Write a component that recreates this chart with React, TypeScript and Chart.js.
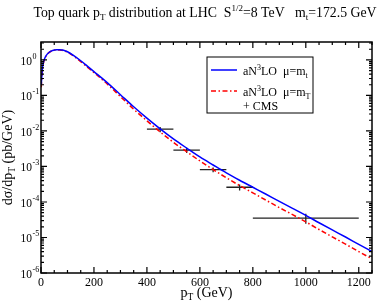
import React, { useEffect, useRef } from 'react';
import { Chart, registerables } from 'chart.js';

Chart.register(...registerables);

// ---- data ----
const ptGrid = [1, 5, 10, 15, 20, 30, 40, 50, 60, 70, 80, 90, 100, 125, 150, 175, 200, 250, 300, 350, 400, 450, 500, 550, 600, 650, 700, 750, 800, 850, 900, 950, 1000, 1050, 1100, 1150, 1200, 1250];
const sigmaMuMt = [0.2, 0.55, 0.9, 1.15, 1.35, 1.62, 1.8, 1.9, 1.95, 1.95, 1.9, 1.82, 1.7, 1.3, 0.95, 0.67, 0.47, 0.23, 0.105, 0.048, 0.023, 0.0115, 0.006, 0.0033, 0.00185, 0.0011, 0.00066, 0.00041, 0.00026, 0.000165, 0.000104, 0.000066, 0.000042, 0.000026, 0.0000163, 0.0000103, 0.0000064, 0.000004];
const sigmaMuMT = [0.17, 0.52, 0.87, 1.12, 1.32, 1.6, 1.78, 1.88, 1.92, 1.92, 1.87, 1.78, 1.66, 1.25, 0.9, 0.63, 0.44, 0.21, 0.093, 0.041, 0.0193, 0.0094, 0.0048, 0.0026, 0.00143, 0.00082, 0.00048, 0.00029, 0.000181, 0.000112, 0.0000695, 0.000044, 0.0000275, 0.0000168, 0.0000104, 0.0000065, 0.000004, 0.0000025];

const cmsPt = [450, 550, 650, 750, 1000];
const cmsPtLow = [400, 500, 600, 700, 800];
const cmsPtHigh = [500, 600, 700, 800, 1200];
const cmsSigma = [0.0112, 0.0029, 0.00081, 0.00026, 0.000035];
const cmsSigmaUp = [0.013, 0.00335, 0.00094, 0.00031, 0.0000465];
const cmsSigmaDown = [0.0092, 0.0024, 0.00069, 0.00021, 0.0000245];

const xTickLabels = [0, 200, 400, 600, 800, 1000, 1200];
const yDecadeExponents = [0, -1, -2, -3, -4, -5, -6];

const X_MIN = 0;
const X_MAX = 1250;
const Y_MIN = 1e-6;
const Y_MAX = 3.2;

const FONT = "'Liberation Serif', 'Times New Roman', serif";

type Seg = { t: string; s: number; dy: number };

function segWidth(ctx: CanvasRenderingContext2D, segs: Seg[]) {
  let w = 0;
  for (const g of segs) {
    ctx.font = `${g.s}px ${FONT}`;
    w += ctx.measureText(g.t).width;
  }
  return w;
}

function drawRich(ctx: CanvasRenderingContext2D, x: number, y: number, segs: Seg[], align: 'left' | 'center' | 'right') {
  const w = segWidth(ctx, segs);
  let cx = align === 'left' ? x : align === 'center' ? x - w / 2 : x - w;
  ctx.textAlign = 'left';
  ctx.textBaseline = 'alphabetic';
  for (const g of segs) {
    ctx.font = `${g.s}px ${FONT}`;
    ctx.fillText(g.t, cx, y + g.dy);
    cx += ctx.measureText(g.t).width;
  }
}

const decorPlugin = {
  id: 'decor',
  beforeDatasetsDraw(chart: any) {
    const ctx: CanvasRenderingContext2D = chart.ctx;
    const xs = chart.scales.x;
    const ys = chart.scales.y;
    ctx.save();
    ctx.strokeStyle = '#222';
    ctx.lineWidth = 1.3;
    for (let i = 0; i < cmsPt.length; i++) {
      const y = ys.getPixelForValue(cmsSigma[i]);
      const x0 = xs.getPixelForValue(cmsPtLow[i]);
      const x1 = xs.getPixelForValue(cmsPtHigh[i]);
      const xc = xs.getPixelForValue(cmsPt[i]);
      ctx.beginPath();
      ctx.moveTo(x0, y);
      ctx.lineTo(x1, y);
      ctx.moveTo(xc, ys.getPixelForValue(cmsSigmaUp[i]));
      ctx.lineTo(xc, ys.getPixelForValue(cmsSigmaDown[i]));
      ctx.stroke();
    }
    ctx.restore();
  },
  afterDatasetsDraw(chart: any) {
    const ctx: CanvasRenderingContext2D = chart.ctx;
    const xs = chart.scales.x;
    const ys = chart.scales.y;
    const { left, right, top, bottom } = chart.chartArea;
    ctx.save();
    ctx.fillStyle = '#000';
    ctx.strokeStyle = '#000';
    ctx.lineWidth = 1.5;
    ctx.strokeRect(left, top, right - left, bottom - top);

    ctx.lineWidth = 1.2;
    ctx.beginPath();
    for (let v = X_MIN; v <= X_MAX; v += 50) {
      const px = xs.getPixelForValue(v);
      const len = v % 200 === 0 ? 6 : 3;
      ctx.moveTo(px, bottom);
      ctx.lineTo(px, bottom - len);
      ctx.moveTo(px, top);
      ctx.lineTo(px, top + len);
    }
    for (const e of yDecadeExponents) {
      for (let k = 1; k <= 9; k++) {
        const v = k * Math.pow(10, e);
        if (v > Y_MAX * 1.0001 || v < Y_MIN * 0.9999) continue;
        const py = ys.getPixelForValue(v);
        const len = k === 1 ? 6 : 3;
        ctx.moveTo(left, py);
        ctx.lineTo(left + len, py);
        ctx.moveTo(right, py);
        ctx.lineTo(right - len, py);
      }
    }
    ctx.stroke();

    ctx.font = `12px ${FONT}`;
    ctx.textAlign = 'center';
    ctx.textBaseline = 'alphabetic';
    for (const v of xTickLabels) {
      ctx.fillText(String(v), xs.getPixelForValue(v), 286);
    }
    for (const e of yDecadeExponents) {
      const py = ys.getPixelForValue(Math.pow(10, e));
      ctx.font = `11.5px ${FONT}`;
      ctx.textAlign = 'right';
      ctx.fillText('10', 32, py + 5);
      ctx.font = `8px ${FONT}`;
      ctx.textAlign = 'left';
      ctx.fillText(e === 0 ? '0' : '-' + String(-e), 32.5, py - 1);
    }

    drawRich(ctx, (left + right) / 2, 297, [
      { t: 'p', s: 14, dy: 0 },
      { t: 'T', s: 9.5, dy: 3 },
      { t: ' (GeV)', s: 14, dy: 0 },
    ], 'center');

    ctx.save();
    ctx.translate(12, (top + bottom) / 2);
    ctx.rotate(-Math.PI / 2);
    drawRich(ctx, 0, 0, [
      { t: 'dσ/dp', s: 14, dy: 0 },
      { t: 'T', s: 9.5, dy: 3 },
      { t: ' (pb/GeV)', s: 14, dy: 0 },
    ], 'center');
    ctx.restore();

    drawRich(ctx, 205, 17, [
      { t: 'Top quark p', s: 13.8, dy: 0 },
      { t: 'T', s: 9, dy: 3 },
      { t: ' distribution at LHC  S', s: 13.8, dy: 0 },
      { t: '1/2', s: 9, dy: -6 },
      { t: '=8 TeV   m', s: 13.8, dy: 0 },
      { t: 't', s: 9, dy: 3 },
      { t: '=172.5 GeV', s: 13.8, dy: 0 },
    ], 'center');

    ctx.lineWidth = 1;
    ctx.strokeRect(207, 57, 106, 56);
    ctx.lineWidth = 1.5;
    ctx.strokeStyle = '#0000ff';
    ctx.beginPath();
    ctx.moveTo(211, 70);
    ctx.lineTo(237, 70);
    ctx.stroke();
    ctx.strokeStyle = '#ff0000';
    ctx.setLineDash([5, 2.5, 1.5, 2.5]);
    ctx.beginPath();
    ctx.moveTo(211, 91);
    ctx.lineTo(237, 91);
    ctx.stroke();
    ctx.setLineDash([]);
    ctx.fillStyle = '#000';
    drawRich(ctx, 243, 75, [
      { t: 'aN', s: 12, dy: 0 },
      { t: '3', s: 8, dy: -5 },
      { t: 'LO  μ=m', s: 12, dy: 0 },
      { t: 't', s: 8, dy: 3 },
    ], 'left');
    drawRich(ctx, 243, 96, [
      { t: 'aN', s: 12, dy: 0 },
      { t: '3', s: 8, dy: -5 },
      { t: 'LO  μ=m', s: 12, dy: 0 },
      { t: 'T', s: 8, dy: 3 },
    ], 'left');
    drawRich(ctx, 243, 110, [{ t: '+ CMS', s: 12, dy: 0 }], 'left');

    ctx.restore();
  },
};

export default function App() {
  const ref = useRef<HTMLCanvasElement>(null);
  useEffect(() => {
    const canvas = ref.current!;
    const chart = new Chart(canvas, {
      type: 'line',
      data: {
        datasets: [
          {
            label: 'aN3LO μ=mt',
            data: ptGrid.map((x, i) => ({ x, y: sigmaMuMt[i] })),
            borderColor: '#0000ff',
            borderWidth: 1.5,
            pointRadius: 0,
            cubicInterpolationMode: 'monotone',
            fill: false,
          },
          {
            label: 'aN3LO μ=mT',
            data: ptGrid.map((x, i) => ({ x, y: sigmaMuMT[i] })),
            borderColor: '#ff0000',
            borderWidth: 1.5,
            borderDash: [5, 2.5, 1.5, 2.5],
            pointRadius: 0,
            cubicInterpolationMode: 'monotone',
            fill: false,
          },
          {
            label: '+ CMS',
            data: cmsPt.map((x, i) => ({ x, y: cmsSigma[i] })),
            showLine: false,
            pointRadius: 0,
            borderColor: '#222',
          },
        ],
      },
      options: {
        responsive: false,
        animation: false,
        devicePixelRatio: 1,
        layout: { padding: { left: 41, right: 10, top: 42, bottom: 31 } },
        plugins: { legend: { display: false }, title: { display: false }, tooltip: { enabled: false } },
        scales: {
          x: { type: 'linear', min: X_MIN, max: X_MAX, display: false },
          y: { type: 'logarithmic', min: Y_MIN, max: Y_MAX, display: false },
        },
      },
      plugins: [decorPlugin],
    } as any);
    return () => chart.destroy();
  }, []);
  return (
    <div style={{ position: 'absolute', left: 0, top: 0, width: 382, height: 304, background: '#fff' }}>
      <canvas ref={ref} width={382} height={304} style={{ display: 'block', width: 382, height: 304 }} />
    </div>
  );
}
